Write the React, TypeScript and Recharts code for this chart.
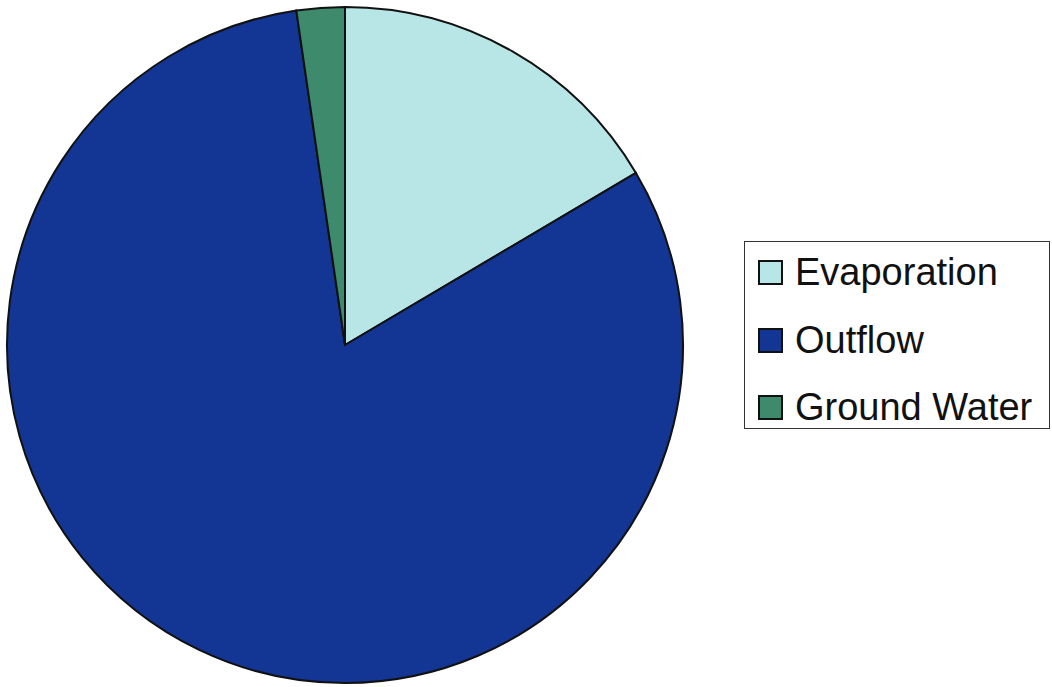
import React from "react";
import { PieChart, Pie, Cell, Legend } from "recharts";

const categories = ["Evaporation", "Outflow", "Ground Water"];
const values = [16.5, 81.2, 2.3];
const colors = ["#b8e6e6", "#133593", "#3d8a6d"];

const data = categories.map((name, i) => ({ name, value: values[i] }));

const rowCenters = [30, 98, 165];

const renderLegend = () => {
  return (
    <div
      style={{
        position: "relative",
        border: "1.5px solid #333",
        background: "#fff",
        width: 306,
        height: 188,
        boxSizing: "border-box",
        fontFamily: "'Liberation Sans', Arial, sans-serif",
        fontSize: 38,
        color: "#111",
      }}
    >
      {categories.map((name, i) => (
        <div
          key={name}
          style={{
            position: "absolute",
            left: 0,
            top: rowCenters[i] - 30,
            height: 60,
            display: "flex",
            alignItems: "center",
            whiteSpace: "nowrap",
          }}
        >
          <div
            style={{
              width: 21,
              height: 21,
              marginLeft: 13,
              marginRight: 12,
              background: colors[i],
              border: "2.5px solid #111",
            }}
          />
          <span style={{ lineHeight: "40px" }}>{name}</span>
        </div>
      ))}
    </div>
  );
};

export default function App() {
  return (
    <div style={{ position: "absolute", left: 0, top: 0, background: "#fff" }}>
      <PieChart width={1052} height={687} margin={{ top: 0, right: 0, bottom: 0, left: 0 }}>
        <Pie
          data={data}
          dataKey="value"
          nameKey="name"
          cx={345}
          cy={345}
          outerRadius={338}
          startAngle={90}
          endAngle={-270}
          stroke="#111"
          strokeWidth={2}
          isAnimationActive={false}
          legendType="square"
        >
          {data.map((d, i) => (
            <Cell key={d.name} fill={colors[i]} />
          ))}
        </Pie>
        <Legend
          content={renderLegend}
          wrapperStyle={{ position: "absolute", left: 744, top: 241, width: 306, height: 188 }}
        />
      </PieChart>
    </div>
  );
}
